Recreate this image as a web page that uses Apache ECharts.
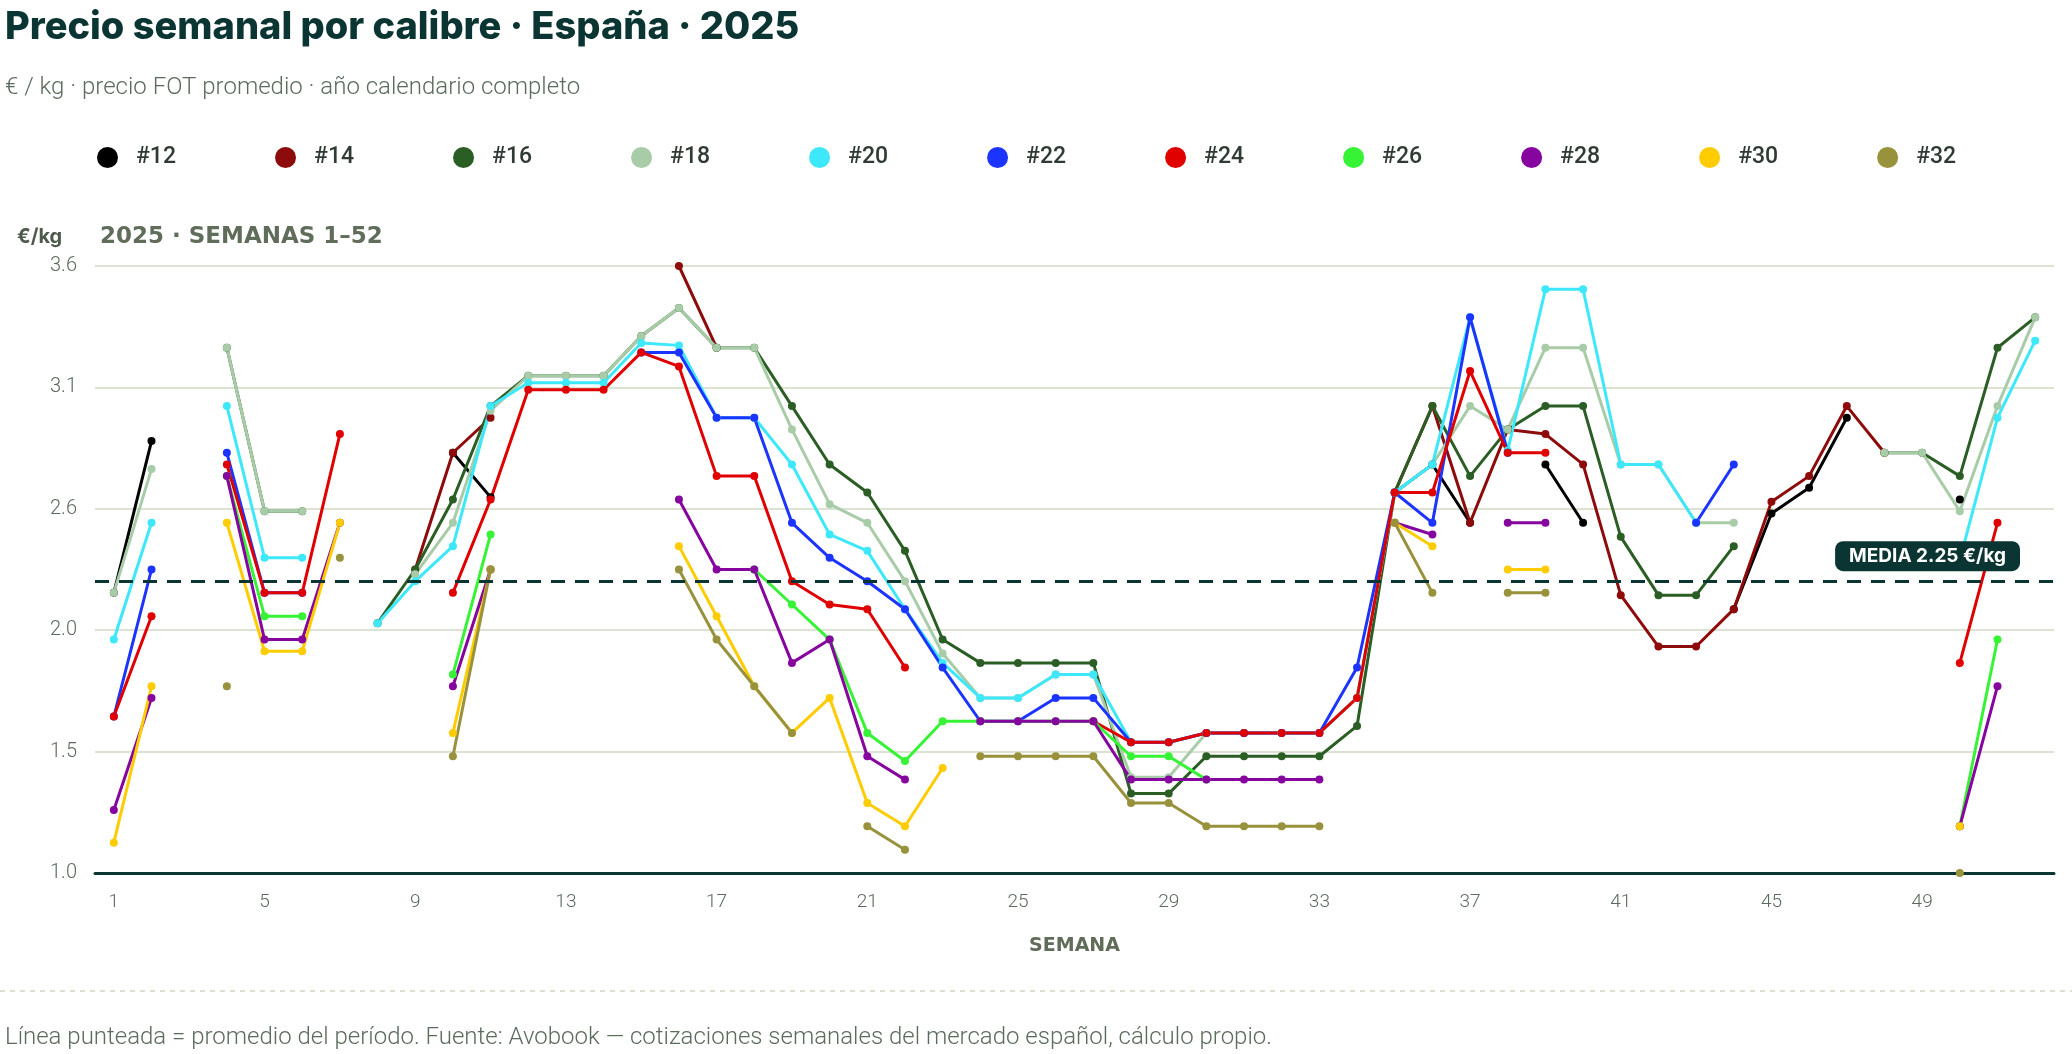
<!DOCTYPE html>
<html>
<head>
<meta charset="utf-8">
<title>Precio semanal por calibre</title>
<script src="https://cdn.jsdelivr.net/npm/echarts@6/dist/echarts.min.js"></script>
<style>
  html, body { margin: 0; padding: 0; background: #ffffff; }
  #main { width: 2072px; height: 1054px; }
</style>
</head>
<body>
<div id="main"></div>
<script>
// Weeks (x categories)
var weeks = ['1', '2', '3', '4', '5', '6', '7', '8', '9', '10', '11', '12', '13',
    '14', '15', '16', '17', '18', '19', '20', '21', '22', '23', '24', '25', '26',
    '27', '28', '29', '30', '31', '32', '33', '34', '35', '36', '37', '38', '39',
    '40', '41', '42', '43', '44', '45', '46', '47', '48', '49', '50', '51', '52'];

// Price per caliber, €/kg, one value per week (null = no quote)
var cal12 = [2.20, 2.85, null, null, null, null, null, null, null, 2.80, 2.61, null, null,
    null, null, null, null, null, null, null, null, null, null, null, null, null,
    null, null, null, null, null, null, null, null, 2.63, 2.75, 2.50, null, 2.75,
    2.50, null, null, null, 2.13, 2.54, 2.65, 2.95, null, null, 2.60, null, null];
var cal14 = [null, null, null, null, null, null, null, null, 2.30, 2.80, 2.95, null, null,
    null, null, 3.60, 3.25, null, null, null, null, null, null, null, null, null,
    null, null, null, null, null, null, null, null, 2.63, 3.00, 2.50, 2.90, 2.88,
    2.75, 2.19, 1.97, 1.97, 2.13, 2.59, 2.70, 3.00, 2.80, null, null, null, null];
var cal16 = [null, null, null, 3.25, 2.55, 2.55, null, 2.07, 2.30, 2.60, 3.00, 3.13, 3.13,
    3.13, 3.30, 3.42, 3.25, 3.25, 3.00, 2.75, 2.63, 2.38, 2.00, 1.90, 1.90, 1.90,
    1.90, 1.34, 1.34, 1.50, 1.50, 1.50, 1.50, 1.63, 2.63, 3.00, 2.70, 2.90, 3.00,
    3.00, 2.44, 2.19, 2.19, 2.40, null, null, null, 2.80, 2.80, 2.70, 3.25, 3.38];
var cal18 = [2.20, 2.73, null, 3.25, 2.55, 2.55, null, null, 2.28, 2.50, 2.98, 3.13, 3.13,
    3.13, 3.30, 3.42, 3.25, 3.25, 2.90, 2.58, 2.50, 2.25, 1.94, 1.75, 1.75, 1.85,
    1.85, 1.41, 1.41, 1.60, 1.60, 1.60, 1.60, 1.75, 2.63, 2.75, 3.00, 2.90, 3.25,
    3.25, 2.75, 2.75, 2.50, 2.50, null, null, null, 2.80, 2.80, 2.55, 3.00, 3.38];
var cal20 = [2.00, 2.50, null, 3.00, 2.35, 2.35, null, 2.07, 2.25, 2.40, 3.00, 3.10, 3.10,
    3.10, 3.27, 3.26, 2.95, 2.95, 2.75, 2.45, 2.38, 2.13, 1.90, 1.75, 1.75, 1.85,
    1.85, 1.56, 1.56, 1.60, 1.60, 1.60, 1.60, 1.75, 2.63, 2.75, 3.38, 2.81, 3.50,
    3.50, 2.75, 2.75, 2.50, null, null, null, null, null, null, 2.34, 2.95, 3.28];
var cal22 = [1.67, 2.30, null, 2.80, 2.20, 2.20, null, null, null, null, null, null, null,
    null, 3.23, 3.23, 2.95, 2.95, 2.50, 2.35, 2.25, 2.13, 1.88, 1.65, 1.65, 1.75,
    1.75, 1.56, 1.56, 1.60, 1.60, 1.60, 1.60, 1.88, 2.63, 2.50, 3.38, 2.80, null,
    null, null, null, 2.50, 2.75, null, null, null, null, null, null, null, null];
var cal24 = [1.67, 2.10, null, 2.75, 2.20, 2.20, 2.88, null, null, 2.20, 2.60, 3.07, 3.07,
    3.07, 3.23, 3.17, 2.70, 2.70, 2.25, 2.15, 2.13, 1.88, null, null, null, null,
    1.65, 1.56, 1.56, 1.60, 1.60, 1.60, 1.60, 1.75, 2.63, 2.63, 3.15, 2.80, 2.80,
    null, null, null, null, null, null, null, null, null, null, 1.90, 2.50, null];
var cal26 = [null, null, null, 2.70, 2.10, 2.10, null, null, null, 1.85, 2.45, null, null,
    null, null, null, null, 2.30, 2.15, 2.00, 1.60, 1.48, 1.65, 1.65, 1.65, 1.65,
    1.65, 1.50, 1.50, 1.40, null, null, null, null, null, null, null, null, null,
    null, null, null, null, null, null, null, null, null, null, 1.20, 2.00, null];
var cal28 = [1.27, 1.75, null, 2.70, 2.00, 2.00, 2.50, null, null, 1.80, 2.30, null, null,
    null, null, 2.60, 2.30, 2.30, 1.90, 2.00, 1.50, 1.40, null, 1.65, 1.65, 1.65,
    1.65, 1.40, 1.40, 1.40, 1.40, 1.40, 1.40, null, 2.50, 2.45, null, 2.50, 2.50,
    null, null, null, null, null, null, null, null, null, null, 1.20, 1.80, null];
var cal30 = [1.13, 1.80, null, 2.50, 1.95, 1.95, 2.50, null, null, 1.60, 2.30, null, null,
    null, null, 2.40, 2.10, 1.80, 1.60, 1.75, 1.30, 1.20, 1.45, null, null, null,
    null, null, null, null, null, null, null, null, 2.50, 2.40, null, 2.30, 2.30,
    null, null, null, null, null, null, null, null, null, null, 1.20, null, null];
var cal32 = [null, null, null, 1.80, null, null, 2.35, null, null, 1.50, 2.30, null, null,
    null, null, 2.30, 2.00, 1.80, 1.60, null, 1.20, 1.10, null, 1.50, 1.50, 1.50,
    1.50, 1.30, 1.30, 1.20, 1.20, 1.20, 1.20, null, 2.50, 2.20, null, 2.20, 2.20,
    null, null, null, null, null, null, null, null, null, null, 1.00, null, null];

var calNames = ['#12', '#14', '#16', '#18', '#20', '#22', '#24', '#26', '#28', '#30', '#32'];
var calData = [cal12, cal14, cal16, cal18, cal20, cal22, cal24, cal26, cal28, cal30, cal32];
var calColors = ['#000000', '#8e0b0b', '#2a5e24', '#a9cca8', '#3ee8fb', '#1c34ff',
    '#e00000', '#36f336', '#86059f', '#ffcc00', '#98923c'];

// Period average
var meanPrice = 2.25;

// Y axis ticks: 1.0 .. 3.6 in 5 steps
var yMin = 1.0, yMax = 3.6, yStep = 0.52;

var DARK = '#0b3532';
var MUTED = '#5b6b5c';

var chart = echarts.init(document.getElementById('main'));

var series = calNames.map(function (name, i) {
    var s = {
        name: name,
        type: 'line',
        data: calData[i],
        connectNulls: false,
        symbol: 'circle',
        symbolSize: 8,
        showAllSymbol: true,
        itemStyle: { color: calColors[i] },
        lineStyle: { color: calColors[i], width: 3 },
        emphasis: { disabled: true }
    };
    if (i === calNames.length - 1) {
        // dashed average line with its badge, drawn above the series
        s.markLine = {
            silent: true,
            symbol: 'none',
            z: 20,
            lineStyle: { color: DARK, width: 3, type: [14, 10] },
            label: {
                show: true,
                position: 'insideEndTop',
                distance: [34, 10],
                formatter: 'MEDIA 2.25 €/kg',
                color: '#ffffff',
                backgroundColor: DARK,
                borderRadius: 8,
                padding: [6, 14, 5, 14],
                fontFamily: 'Inter',
                fontWeight: 700,
                fontSize: 19
            },
            data: [{ yAxis: meanPrice }]
        };
    }
    return s;
});

var option = {
    animation: false,
    backgroundColor: '#ffffff',
    title: [
        {
            text: 'Precio semanal por calibre · España · 2025',
            left: 0, top: 4,
            textStyle: { fontFamily: 'Inter', fontWeight: 800, fontSize: 38, color: DARK }
        },
        {
            text: '€ / kg · precio FOT promedio · año calendario completo',
            left: 0, top: 71,
            textStyle: { fontFamily: 'Roboto', fontWeight: 300, fontSize: 24, color: MUTED }
        },
        {
            text: '€/kg',
            left: 12, top: 222,
            textStyle: { fontFamily: 'Inter', fontWeight: 700, fontSize: 20, color: '#4d5b4d' }
        },
        {
            text: '2025 · SEMANAS 1–52',
            left: 95, top: 221,
            textStyle: { fontFamily: 'DejaVu Sans', fontWeight: 'bold', fontSize: 23, color: '#5f6d5a' }
        },
        {
            text: 'Línea punteada = promedio del período. Fuente: Avobook — cotizaciones semanales del mercado español, cálculo propio.',
            left: 0, top: 1021,
            textStyle: { fontFamily: 'Roboto', fontWeight: 300, fontSize: 24, color: MUTED }
        }
    ],
    legend: {
        data: calNames,
        left: 92, top: 141,
        icon: 'circle',
        itemWidth: 21,
        itemHeight: 21,
        itemGap: 99,
        selectedMode: false,
        textStyle: {
            fontFamily: 'Roboto', fontWeight: 500, fontSize: 23, color: '#2f3b33',
            padding: [0, 0, 0, 13]
        }
    },
    graphic: [
        {
            type: 'line',
            shape: { x1: 0, y1: 991, x2: 2072, y2: 991 },
            style: { stroke: '#dbe1cf', lineWidth: 2, lineDash: [5, 5] },
            silent: true
        }
    ],
    grid: { left: 95, right: 18, top: 266, bottom: 181, containLabel: false },
    xAxis: {
        type: 'category',
        data: weeks,
        boundaryGap: true,
        name: 'SEMANA',
        nameLocation: 'middle',
        nameGap: 64,
        nameTextStyle: { fontFamily: 'DejaVu Sans', fontWeight: 'bold', fontSize: 19, color: '#5f6d5a' },
        axisLine: { show: true, lineStyle: { color: DARK, width: 3 } },
        axisTick: { show: false },
        axisLabel: {
            interval: 3,
            margin: 20,
            fontFamily: 'Roboto', fontWeight: 300, fontSize: 19, color: MUTED
        },
        splitLine: { show: false }
    },
    yAxis: {
        type: 'value',
        min: yMin,
        max: yMax,
        interval: yStep,
        axisLine: { show: false },
        axisTick: { show: false },
        axisLabel: {
            margin: 18,
            fontFamily: 'Roboto', fontWeight: 300, fontSize: 20, color: MUTED,
            formatter: function (v) { return v.toFixed(1); }
        },
        splitLine: { lineStyle: { color: '#dde3d2', width: 2 } }
    },
    series: series
};

chart.setOption(option);
</script>
</body>
</html>
